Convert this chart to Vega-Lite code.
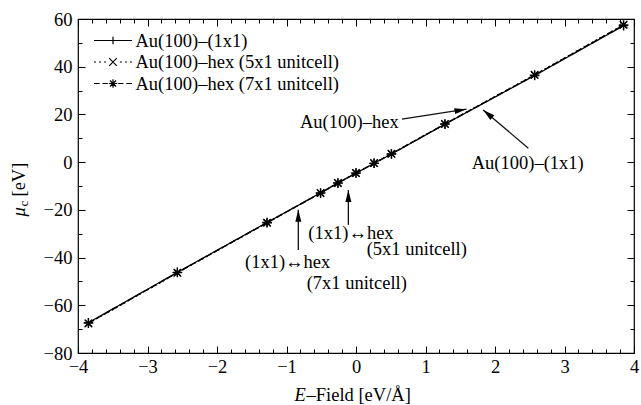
{
  "$schema": "https://vega.github.io/schema/vega-lite/v6.json",
  "width": 556,
  "height": 334,
  "autosize": {"type": "none"},
  "padding": {"left": 78, "top": 19, "right": 7, "bottom": 52},
  "background": "white",
  "datasets": {
    "series": [
      {"x": -3.85, "y": -67.3, "series": "Au(100)–(1x1)"},
      {"x": -2.57, "y": -46.2, "series": "Au(100)–(1x1)"},
      {"x": -1.28, "y": -25.3, "series": "Au(100)–(1x1)"},
      {"x": -0.51, "y": -12.9, "series": "Au(100)–(1x1)"},
      {"x": -0.26, "y": -8.7, "series": "Au(100)–(1x1)"},
      {"x": 0.0, "y": -4.6, "series": "Au(100)–(1x1)"},
      {"x": 0.26, "y": -0.5, "series": "Au(100)–(1x1)"},
      {"x": 0.51, "y": 3.4, "series": "Au(100)–(1x1)"},
      {"x": 1.28, "y": 15.9, "series": "Au(100)–(1x1)"},
      {"x": 2.57, "y": 36.3, "series": "Au(100)–(1x1)"},
      {"x": 3.85, "y": 57.2, "series": "Au(100)–(1x1)"},
      {"x": -3.85, "y": -67.6, "series": "Au(100)–hex (5x1 unitcell)"},
      {"x": -2.57, "y": -46.4, "series": "Au(100)–hex (5x1 unitcell)"},
      {"x": -1.28, "y": -25.4, "series": "Au(100)–hex (5x1 unitcell)"},
      {"x": -0.51, "y": -12.9, "series": "Au(100)–hex (5x1 unitcell)"},
      {"x": -0.26, "y": -8.7, "series": "Au(100)–hex (5x1 unitcell)"},
      {"x": 0.0, "y": -4.6, "series": "Au(100)–hex (5x1 unitcell)"},
      {"x": 0.26, "y": -0.4, "series": "Au(100)–hex (5x1 unitcell)"},
      {"x": 0.51, "y": 3.5, "series": "Au(100)–hex (5x1 unitcell)"},
      {"x": 1.28, "y": 16.0, "series": "Au(100)–hex (5x1 unitcell)"},
      {"x": 2.57, "y": 36.6, "series": "Au(100)–hex (5x1 unitcell)"},
      {"x": 3.85, "y": 57.6, "series": "Au(100)–hex (5x1 unitcell)"},
      {"x": -3.85, "y": -67.5, "series": "Au(100)–hex (7x1 unitcell)"},
      {"x": -2.57, "y": -46.3, "series": "Au(100)–hex (7x1 unitcell)"},
      {"x": -1.28, "y": -25.4, "series": "Au(100)–hex (7x1 unitcell)"},
      {"x": -0.51, "y": -13.0, "series": "Au(100)–hex (7x1 unitcell)"},
      {"x": -0.26, "y": -8.8, "series": "Au(100)–hex (7x1 unitcell)"},
      {"x": 0.0, "y": -4.6, "series": "Au(100)–hex (7x1 unitcell)"},
      {"x": 0.26, "y": -0.5, "series": "Au(100)–hex (7x1 unitcell)"},
      {"x": 0.51, "y": 3.5, "series": "Au(100)–hex (7x1 unitcell)"},
      {"x": 1.28, "y": 16.0, "series": "Au(100)–hex (7x1 unitcell)"},
      {"x": 2.57, "y": 36.5, "series": "Au(100)–hex (7x1 unitcell)"},
      {"x": 3.85, "y": 57.5, "series": "Au(100)–hex (7x1 unitcell)"}
    ],
    "notes": [
      {"x": -0.806, "y": 17.0, "label": "Au(100)–hex"},
      {"x": 1.665, "y": -0.5, "label": "Au(100)–(1x1)"},
      {"x": -0.686, "y": -29.7, "label": "(1x1)↔hex"},
      {"x": 0.154, "y": -36.6, "label": "(5x1 unitcell)"},
      {"x": -1.597, "y": -41.8, "label": "(1x1)↔hex"},
      {"x": -0.71, "y": -50.6, "label": "(7x1 unitcell)"}
    ],
    "arrows": [
      {"x": 0.66, "y": 18.0, "xe": 1.59, "ye": 22.2, "dir": "right"},
      {"x": 2.48, "y": 5.8, "xe": 1.83, "ye": 21.9, "dir": "upleft"},
      {"x": -0.11, "y": -26.3, "xe": -0.11, "ye": -11.7, "dir": "up"},
      {"x": -0.83, "y": -36.8, "xe": -0.83, "ye": -20.0, "dir": "up"}
    ]
  },
  "resolve": {
    "axis": {"x": "independent", "y": "independent"},
    "scale": {"shape": "independent"}
  },
  "layer": [
    {
      "data": {"name": "series"},
      "mark": {"type": "line", "color": "black", "strokeWidth": 1.3},
      "encoding": {
        "x": {"field": "x", "type": "quantitative",
          "scale": {"domain": [-4, 4], "nice": false, "zero": false},
          "axis": {"orient": "bottom", "values": [-4, -3, -2, -1, 0, 1, 2, 3, 4], "ticks": false, "tickSize": 0, "labelPadding": 4,
            "title": "–Field [eV/Å]", "titleX": 228, "titleY": 41, "titleAlign": "left", "titleBaseline": "middle"}},
        "y": {"field": "y", "type": "quantitative",
          "scale": {"domain": [-80, 60], "nice": false, "zero": false},
          "axis": {"orient": "left", "values": [-80, -60, -40, -20, 0, 20, 40, 60], "ticks": false, "tickSize": 0, "labelPadding": 6,
            "title": "[eV]", "titleAngle": -90, "titleX": -60, "titleY": 177, "titleAlign": "left", "titleBaseline": "middle"}},
        "strokeDash": {"field": "series", "type": "nominal",
          "scale": {"domain": ["Au(100)–(1x1)", "Au(100)–hex (5x1 unitcell)", "Au(100)–hex (7x1 unitcell)"], "range": [[1, 0], [2, 2.5], [6, 3]]},
          "legend": null}
      }
    },
    {
      "data": {"name": "series"},
      "mark": {"type": "point", "filled": false, "opacity": 1, "size": 90, "strokeWidth": 1.3, "color": "black"},
      "encoding": {
        "x": {"field": "x", "type": "quantitative",
          "axis": {"orient": "bottom", "values": [-4, -3, -2, -1, 0, 1, 2, 3, 4], "labels": false, "ticks": true, "tickSize": -7,
            "title": "E", "titleFontStyle": "italic", "titleX": 216, "titleY": 41, "titleAlign": "left", "titleBaseline": "middle"}},
        "y": {"field": "y", "type": "quantitative",
          "axis": {"orient": "left", "values": [-80, -60, -40, -20, 0, 20, 40, 60], "labels": false, "ticks": true, "tickSize": -7,
            "title": "μ", "titleFontStyle": "italic", "titleAngle": -90, "titleX": -60, "titleY": 197, "titleAlign": "left", "titleBaseline": "middle"}},
        "shape": {"field": "series", "type": "nominal",
          "scale": {"domain": ["Au(100)–(1x1)", "Au(100)–hex (5x1 unitcell)", "Au(100)–hex (7x1 unitcell)"],
            "range": ["M-1,0H1M0,-1V1", "M-0.8,-0.8L0.8,0.8M-0.8,0.8L0.8,-0.8", "M-1,0H1M0,-1V1M-0.7,-0.7L0.7,0.7M-0.7,0.7L0.7,-0.7"]},
          "legend": null}
      }
    },
    {
      "data": {"name": "series"},
      "mark": {"type": "point", "filled": false, "opacity": 0},
      "encoding": {
        "x": {"field": "x", "type": "quantitative",
          "axis": {"orient": "bottom", "values": [-3.8, -3.6, -3.4, -3.2, -2.8, -2.6, -2.4, -2.2, -1.8, -1.6, -1.4, -1.2, -0.8, -0.6, -0.4, -0.2, 0.2, 0.4, 0.6, 0.8, 1.2, 1.4, 1.6, 1.8, 2.2, 2.4, 2.6, 2.8, 3.2, 3.4, 3.6, 3.8],
            "labels": false, "ticks": true, "tickSize": -4, "title": null}},
        "y": {"field": "y", "type": "quantitative",
          "axis": {"orient": "left", "values": [-70, -50, -30, -10, 10, 30, 50], "labels": false, "ticks": true, "tickSize": -4,
            "title": "c", "titleFontSize": 13, "titleAngle": -90, "titleX": -55, "titleY": 187, "titleAlign": "left", "titleBaseline": "middle"}},
        "shape": {"field": "series", "type": "nominal",
          "scale": {"domain": ["Au(100)–(1x1)", "Au(100)–hex (5x1 unitcell)", "Au(100)–hex (7x1 unitcell)"],
            "range": [
              "M-2,0H2M0,-0.4V0.4",
              "M-2,0H-1.79M-1.47,0H-1.26M-0.94,0H-0.73M-0.4,-0.4L0.4,0.4M-0.4,0.4L0.4,-0.4M0.73,0H0.94M1.26,0H1.47M1.79,0H2",
              "M-2,0H-1.4M-1.1,0H-0.55M-0.45,0H0.45M0,-0.45V0.45M-0.32,-0.32L0.32,0.32M-0.32,0.32L0.32,-0.32M0.55,0H1.1M1.4,0H2"
            ]},
          "legend": {"orient": "none", "legendX": 24.5, "legendY": 11, "title": null, "padding": 0,
            "symbolSize": 361, "symbolStrokeColor": "black", "symbolStrokeWidth": 1.2, "symbolFillColor": "transparent", "symbolOpacity": 1,
            "labelOffset": 12, "rowPadding": 1.5, "labelFont": "Liberation Serif", "labelFontSize": 18.5, "labelColor": "black", "labelLimit": 400, "labelBaseline": "middle"}}
      }
    },
    {
      "data": {"name": "notes"},
      "mark": {"type": "text", "align": "left", "baseline": "middle", "font": "Liberation Serif", "fontSize": 18.5, "color": "black"},
      "encoding": {
        "x": {"field": "x", "type": "quantitative",
          "axis": {"orient": "top", "values": [-4, -3, -2, -1, 0, 1, 2, 3, 4], "labels": false, "ticks": true, "tickSize": -7, "title": null}},
        "y": {"field": "y", "type": "quantitative",
          "axis": {"orient": "right", "values": [-80, -60, -40, -20, 0, 20, 40, 60], "labels": false, "ticks": true, "tickSize": -7, "title": null}},
        "text": {"field": "label", "type": "nominal"}
      }
    },
    {
      "data": {"name": "arrows"},
      "mark": {"type": "rule", "color": "#111111", "strokeWidth": 1.3},
      "encoding": {
        "x": {"field": "x", "type": "quantitative",
          "axis": {"orient": "top", "values": [-3.8, -3.6, -3.4, -3.2, -2.8, -2.6, -2.4, -2.2, -1.8, -1.6, -1.4, -1.2, -0.8, -0.6, -0.4, -0.2, 0.2, 0.4, 0.6, 0.8, 1.2, 1.4, 1.6, 1.8, 2.2, 2.4, 2.6, 2.8, 3.2, 3.4, 3.6, 3.8],
            "labels": false, "ticks": true, "tickSize": -4, "title": null}},
        "y": {"field": "y", "type": "quantitative",
          "axis": {"orient": "right", "values": [-70, -50, -30, -10, 10, 30, 50], "labels": false, "ticks": true, "tickSize": -4, "title": null}},
        "x2": {"field": "xe"},
        "y2": {"field": "ye"}
      }
    },
    {
      "data": {"name": "arrows"},
      "mark": {"type": "point", "filled": true, "opacity": 1, "size": 100, "color": "black", "strokeWidth": 0},
      "encoding": {
        "x": {"field": "xe", "type": "quantitative", "axis": null},
        "y": {"field": "ye", "type": "quantitative", "axis": null},
        "shape": {"field": "dir", "type": "nominal",
          "scale": {"domain": ["up", "right", "upleft"],
            "range": ["M0,0L-0.6,2.4L0.6,2.4Z", "M0,0L-2.27,0.97L-2.47,-0.21Z", "M0,0L2.22,1.09L1.44,2.01Z"]},
          "legend": null}
      }
    }
  ],
  "config": {
    "font": "Liberation Serif",
    "view": {"stroke": "black", "strokeWidth": 1.2},
    "axis": {"grid": false, "domain": false, "labelFont": "Liberation Serif", "labelFontSize": 18.5, "labelColor": "black",
      "titleFont": "Liberation Serif", "titleFontSize": 18.5, "titleFontWeight": "normal", "titleColor": "black",
      "tickColor": "black", "tickWidth": 1, "labelFlush": false, "labelOverlap": false}
  }
}
